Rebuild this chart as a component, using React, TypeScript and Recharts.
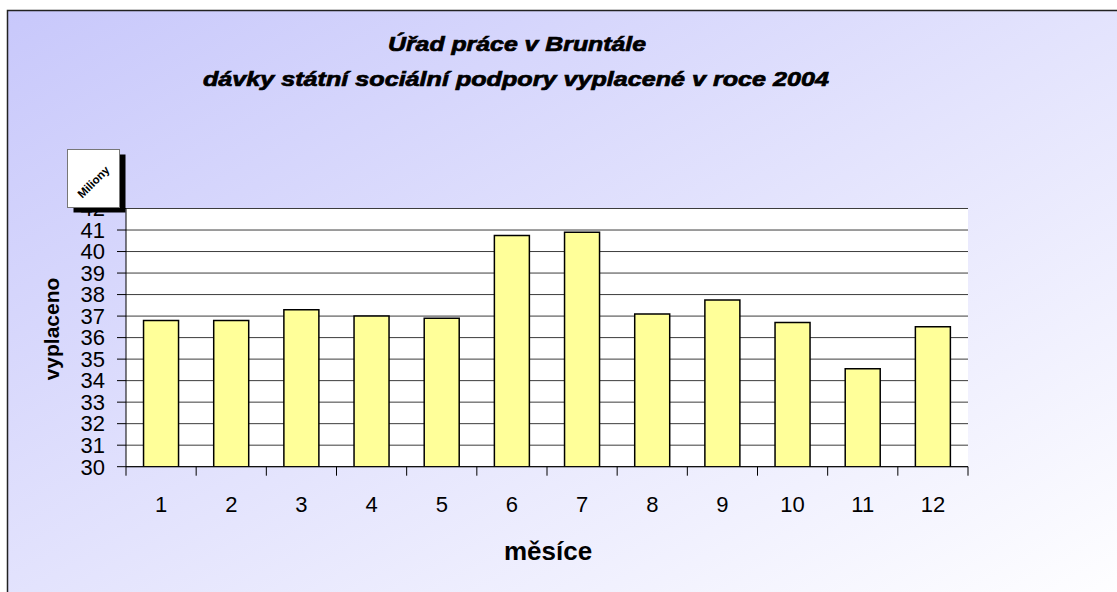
import React from "react";
import { BarChart, Bar, XAxis, YAxis, CartesianGrid } from "recharts";

const months = ["1", "2", "3", "4", "5", "6", "7", "8", "9", "10", "11", "12"];
const paidMillions = [36.8, 36.8, 37.3, 37.0, 36.9, 40.75, 40.9, 37.1, 37.75, 36.7, 34.55, 36.5];
const yTicks = [30, 31, 32, 33, 34, 35, 36, 37, 38, 39, 40, 41, 42];
const titleLine1 = "Úřad práce v Bruntále";
const titleLine2 = "dávky státní sociální podpory vyplacené v roce 2004";
const yTitle = "vyplaceno";
const xTitle = "měsíce";
const unitLabel = "Miliony";

const data = months.map((m, i) => ({ m, v: paidMillions[i] }));

const FONT = "'Liberation Sans', Arial, Helvetica, sans-serif";
const W = 1117;
const H = 592;

function MonthTick(props: any) {
  const { x, y, payload, index } = props;
  const off = payload && payload.offset ? payload.offset : 0;
  return (
    <g>
      <line x1={x - off} x2={x - off} y1={y} y2={y + 9} stroke="#000" strokeWidth={1} />
      {index === months.length - 1 && (
        <line x1={x + off} x2={x + off} y1={y} y2={y + 9} stroke="#000" strokeWidth={1} />
      )}
      <text
        x={x}
        y={y + 30}
        dy="0.71em"
        textAnchor="middle"
        fontSize={22}
        fill="#000"
        fontFamily={FONT}
      >
        {payload.value}
      </text>
    </g>
  );
}

export default function App() {
  return (
    <div style={{ position: "absolute", left: 0, top: 0, width: W, height: H, overflow: "hidden" }}>
      <svg width={W} height={H} style={{ position: "absolute", left: 0, top: 0 }}>
        <defs>
          <linearGradient id="bg" x1="0" y1="0" x2="1" y2="1">
            <stop offset="0" stopColor="#c8c8fb" />
            <stop offset="1" stopColor="#ffffff" />
          </linearGradient>
        </defs>
        <rect x={7.5} y={10.5} width={W + 10} height={H + 10} fill="url(#bg)" stroke="#222" strokeWidth={1.5} />
      </svg>
      <div style={{ position: "absolute", left: 0, top: 0 }}>
        <BarChart
          width={W}
          height={H}
          data={data}
          margin={{ top: 208.5, right: 149, bottom: 65.3, left: 0 }}
          barCategoryGap="25%"
        >
          <CartesianGrid vertical={false} stroke="#3c3c3c" strokeWidth={1} fill="#ffffff" />
          <XAxis
            dataKey="m"
            height={60}
            tickLine={false}
            tickSize={0}
            tickMargin={0}
            axisLine={{ stroke: "#000", strokeWidth: 1 }}
            tick={<MonthTick />}
            interval={0}
          />
          <YAxis
            width={126}
            domain={[30, 42]}
            ticks={yTicks}
            interval={0}
            allowDataOverflow
            tickSize={9}
            tickMargin={12}
            axisLine={{ stroke: "#000", strokeWidth: 1 }}
            tickLine={{ stroke: "#000" }}
            tick={{ fontSize: 22, fill: "#000", fontFamily: FONT }}
          />
          <Bar dataKey="v" fill="#ffff99" stroke="#000" strokeWidth={1.5} isAnimationActive={false} />
        </BarChart>
      </div>
      <svg width={W} height={H} style={{ position: "absolute", left: 0, top: 0, pointerEvents: "none" }}>
        <text
          x={517}
          y={51}
          textAnchor="middle"
          fontSize={20}
          fontWeight="bold"
          fontStyle="italic"
          fontFamily={FONT}
          fill="#000"
          stroke="#000"
          strokeWidth={0.7}
          textLength={258}
          lengthAdjust="spacingAndGlyphs"
        >
          {titleLine1}
        </text>
        <text
          x={516}
          y={86}
          textAnchor="middle"
          fontSize={20}
          fontWeight="bold"
          fontStyle="italic"
          fontFamily={FONT}
          fill="#000"
          stroke="#000"
          strokeWidth={0.7}
          textLength={626}
          lengthAdjust="spacingAndGlyphs"
        >
          {titleLine2}
        </text>
        <text
          x={58.6}
          y={329}
          textAnchor="middle"
          fontSize={21}
          fontWeight="bold"
          fontFamily={FONT}
          fill="#000"
          transform="rotate(-90, 58.6, 329)"
        >
          {yTitle}
        </text>
        <text x={548} y={560} textAnchor="middle" fontSize={26} fontWeight="bold" fontFamily={FONT} fill="#000">
          {xTitle}
        </text>
        <rect x={73.5} y={154.5} width={52} height={58} fill="#000" />
        <rect x={67.5} y={149.5} width={52} height={58} fill="#fff" stroke="#777" strokeWidth={1} />
        <text
          x={93.5}
          y={182}
          textAnchor="middle"
          dominantBaseline="central"
          fontSize={11.5}
          fontWeight="bold"
          fontFamily={FONT}
          fill="#000"
          transform="rotate(-45, 93.5, 182)"
        >
          {unitLabel}
        </text>
      </svg>
    </div>
  );
}
